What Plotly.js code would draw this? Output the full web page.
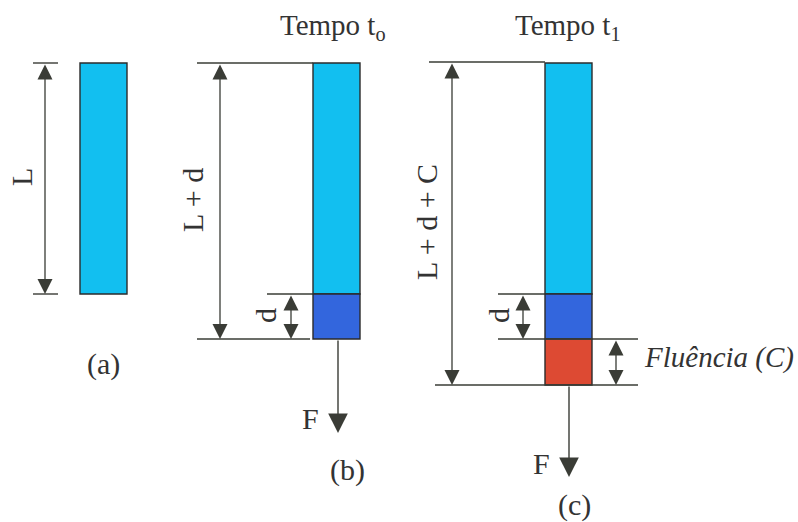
<!DOCTYPE html>
<html>
<head>
<meta charset="utf-8">
<script src="https://cdn.plot.ly/plotly-3.0.1.min.js"></script>
<style>html,body{margin:0;padding:0;background:#fff;}#chart{width:798px;height:522px;}</style>
</head>
<body>
<div id="chart"></div>
<script>
// ---- data ----
const stageLabels = ['(a)', '(b)', '(c)'];
const stageTitles = ['', 'Tempo t<sub>o</sub>', 'Tempo t<sub>1</sub>'];
const segmentNames = ['L', 'd', 'C'];
const segmentLengths = [231, 45, 46];        // L, d, C (drawing units)
const segmentsPerStage = [1, 2, 3];           // (a) L ; (b) L+d ; (c) L+d+C
const dimensionLabels = ['L', 'L + d', 'L + d + C'];
const creepLabel = 'Fluência (C)';
const forceLabel = 'F';

// ---- layout constants ----
const TOP = 63;
const stageX = [103.5, 336.5, 568.5];
const BAR_W = 47;
const fillColors = ['#12BFF0', '#3366DD', '#DD4A33'];
const ink = '#3a3c36';
const FONT = 'Liberation Serif';

// cumulative levels
const levels = [TOP];
segmentLengths.forEach((v, i) => levels.push(levels[i] + v));

// ---- bar traces ----
const traces = segmentNames.map((name, i) => {
  const xs = [], ys = [], bs = [];
  stageX.forEach((sx, s) => {
    if (segmentsPerStage[s] > i) { xs.push(sx); ys.push(segmentLengths[i]); bs.push(levels[i]); }
  });
  return {
    type: 'bar', name: name, x: xs, y: ys, base: bs, width: BAR_W,
    marker: {color: fillColors[i], line: {color: '#2b2b2b', width: 1.4}},
    hoverinfo: 'skip', showlegend: false
  };
});

// ---- lines & arrows ----
const shapes = [];
function hline(y, x0, x1) {
  shapes.push({type: 'line', xref: 'x', yref: 'y', x0: x0, x1: x1, y0: y, y1: y, line: {color: ink, width: 1.4}});
}
const annotations = [];
function dimArrow(x, y0, y1) {
  annotations.push({xref: 'x', yref: 'y', axref: 'x', ayref: 'y', x: x, y: y1, ax: x, ay: y0, text: '',
    showarrow: true, arrowhead: 2, arrowside: 'end+start', arrowsize: 2.3, arrowwidth: 1.3, arrowcolor: ink});
}
function forceArrow(x, y0, y1) {
  annotations.push({xref: 'x', yref: 'y', axref: 'x', ayref: 'y', x: x, y: y1, ax: x, ay: y0, text: '',
    showarrow: true, arrowhead: 2, arrowside: 'end', arrowsize: 2.8, arrowwidth: 1.4, arrowcolor: ink});
}
function label(text, x, y, opts) {
  annotations.push(Object.assign({xref: 'x', yref: 'y', x: x, y: y, text: text, showarrow: false,
    font: {family: FONT, size: 30, color: '#333'}}, opts || {}));
}

// (a)
hline(levels[0], 33, 58); hline(levels[1], 33, 58);
dimArrow(45, levels[0], levels[1]);
label(dimensionLabels[0], 21, 177, {textangle: -90});
label(stageLabels[0], stageX[0], 364);

// (b)
const bEnd = levels[segmentsPerStage[1]];
hline(levels[0], 197, stageX[1] - BAR_W / 2);
hline(bEnd, 197, stageX[1] - BAR_W / 2 - 3);
hline(levels[1], 267, stageX[1] - BAR_W / 2);
dimArrow(220, levels[0], bEnd);
dimArrow(291, levels[1], bEnd);
label(dimensionLabels[1], 192, 200, {textangle: -90});
label(segmentNames[1], 265, 316, {textangle: -90});
forceArrow(338, bEnd, bEnd + 94);
label(forceLabel, 310, 418);
label(stageLabels[1], 347, 470);
label(stageTitles[1], 333, 27, {font: {family: FONT, size: 29, color: '#333'}});

// (c)
const cEnd = levels[segmentsPerStage[2]];
hline(levels[0] - 1, 429, stageX[2] - BAR_W / 2);
hline(cEnd, 435, 638);
hline(levels[1], 498, stageX[2] - BAR_W / 2);
hline(levels[2], 498, 638);
dimArrow(452, levels[0] - 1, cEnd);
dimArrow(523, levels[1], levels[2]);
dimArrow(616, levels[2], cEnd);
label(dimensionLabels[2], 426, 222, {textangle: -90});
label(segmentNames[1], 498, 316, {textangle: -90});
label(creepLabel, 719, 357, {font: {family: FONT, size: 29, color: '#333', style: 'italic'}});
forceArrow(569, cEnd, cEnd + 92);
label(forceLabel, 541, 463);
label(stageLabels[2], 574, 505);
label(stageTitles[2], 568, 27, {font: {family: FONT, size: 29, color: '#333'}});

const layout = {
  width: 798, height: 522,
  margin: {l: 0, r: 0, t: 0, b: 0},
  paper_bgcolor: '#fff', plot_bgcolor: '#fff',
  barmode: 'overlay',
  xaxis: {range: [0, 798], visible: false, fixedrange: true},
  yaxis: {range: [522, 0], visible: false, fixedrange: true},
  shapes: shapes, annotations: annotations,
  showlegend: false
};
Plotly.newPlot('chart', traces, layout, {staticPlot: true, displayModeBar: false});
</script>
</body>
</html>
